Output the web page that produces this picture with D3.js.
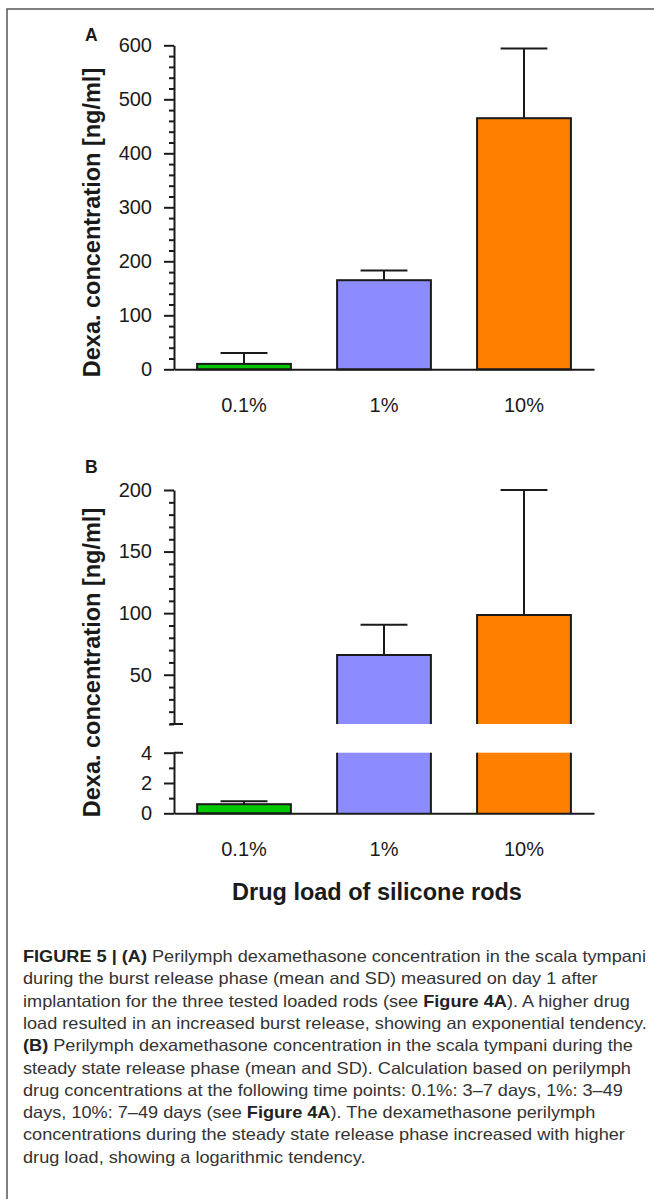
<!DOCTYPE html>
<html>
<head>
<meta charset="utf-8">
<script src="https://cdn.jsdelivr.net/npm/d3@7"></script>
<style>
  body { margin: 0; background: #fff; }
  svg { display: block; font-family: "Liberation Sans", Arial, sans-serif; }
</style>
</head>
<body>
<svg id="chart" width="654" height="1199"></svg>
<script>
// data
const loads = ["0.1%", "1%", "10%"];
const burstMean = [10, 165, 465];
const burstSD = [20, 18, 129];
const steadyMean = [0.6, 66, 98.5];
const steadySD = [0.2, 24.5, 101.5];
const barColors = ["#00c800", "#8c8cff", "#ff8000"];

const ticksA = [0, 100, 200, 300, 400, 500, 600];
const minorA = [20, 40, 60, 80, 120, 140, 160, 180, 220, 240, 260, 280, 320, 340, 360, 380, 420, 440, 460, 480, 520, 540, 560, 580];
const ticksBup = [50, 100, 150, 200];
const minorBup = [10, 20, 30, 40, 60, 70, 80, 90, 110, 120, 130, 140, 160, 170, 180, 190];
const ticksBlow = [0, 2, 4];
const minorBlow = [1, 3];

const caption = [
  [["FIGURE 5 | (A)", true], [" Perilymph dexamethasone concentration in the scala tympani", false]],
  [["during the burst release phase (mean and SD) measured on day 1 after", false]],
  [["implantation for the three tested loaded rods (see ", false], ["Figure 4A", true], ["). A higher drug", false]],
  [["load resulted in an increased burst release, showing an exponential tendency.", false]],
  [["(B)", true], [" Perilymph dexamethasone concentration in the scala tympani during the", false]],
  [["steady state release phase (mean and SD). Calculation based on perilymph", false]],
  [["drug concentrations at the following time points: 0.1%: 3\u20137 days, 1%: 3\u201349", false]],
  [["days, 10%: 7\u201349 days (see ", false], ["Figure 4A", true], ["). The dexamethasone perilymph", false]],
  [["concentrations during the steady state release phase increased with higher", false]],
  [["drug load, showing a logarithmic tendency.", false]]
];

const svg = d3.select("#chart");
const ink = "#1a1a1a";
const axisX = 174;

// frame
svg.append("path")
  .attr("d", "M7,1199V9H654")
  .attr("fill", "none")
  .attr("stroke", "#555")
  .attr("stroke-width", 1.5);

const x = d3.scaleBand()
  .domain(loads)
  .range([axisX, 594])
  .paddingInner(0.33)
  .paddingOuter(0.165);

function styleAxis(sel) {
  sel.selectAll("path, line").attr("stroke", ink).attr("stroke-width", 2);
  sel.selectAll("text")
    .attr("font-size", 20)
    .attr("fill", ink)
    .attr("font-family", "Liberation Sans, Arial, sans-serif");
}

function yAxis(scale, majors, minors) {
  const g = svg.append("g").attr("transform", `translate(${axisX},0)`);
  g.append("g")
    .call(d3.axisLeft(scale).tickValues(minors).tickSize(5).tickFormat(""))
    .call(s => s.select(".domain").remove())
    .call(styleAxis);
  g.append("g")
    .call(d3.axisLeft(scale).tickValues(majors).tickSize(10).tickSizeOuter(0).tickPadding(12).tickFormat(d => d))
    .call(styleAxis);
}

function xAxis(yBase) {
  svg.append("g")
    .attr("transform", `translate(0,${yBase})`)
    .call(d3.axisBottom(x).tickSize(0).tickSizeOuter(0).tickPadding(28.5))
    .call(styleAxis);
}

function errorBar(cx, yTop, yCap) {
  const half = x.bandwidth() / 4;
  svg.append("path")
    .attr("d", `M${cx},${yTop}V${yCap}M${cx - half},${yCap}H${cx + half}`)
    .attr("fill", "none")
    .attr("stroke", ink)
    .attr("stroke-width", 2);
}

function yLabel(cy) {
  svg.append("text")
    .attr("transform", `translate(99.5,${cy}) rotate(-90)`)
    .attr("text-anchor", "middle")
    .attr("font-size", 23.5)
    .attr("font-weight", "bold")
    .attr("fill", ink)
    .text("Dexa. concentration [ng/ml]");
}

function panelLetter(s, yb) {
  svg.append("text").attr("x", 85).attr("y", yb)
    .attr("font-size", 17.5).attr("font-weight", "bold").attr("fill", ink).text(s);
}

// ---------- Panel A ----------
const yA = d3.scaleLinear().domain([0, 600]).range([369.3, 45.3]);

panelLetter("A", 40.5);

loads.forEach((d, i) => {
  const cx = x(d) + x.bandwidth() / 2;
  errorBar(cx, yA(burstMean[i]), yA(burstMean[i] + burstSD[i]));
});

svg.append("g").selectAll("rect")
  .data(loads)
  .join("rect")
  .attr("x", d => x(d))
  .attr("y", (d, i) => yA(burstMean[i]))
  .attr("width", x.bandwidth())
  .attr("height", (d, i) => yA(0) - yA(burstMean[i]))
  .attr("fill", (d, i) => barColors[i])
  .attr("stroke", ink)
  .attr("stroke-width", 2);

yAxis(yA, ticksA, minorA);
xAxis(yA(0));
yLabel(222.5);

// ---------- Panel B (broken axis) ----------
const yLow = d3.scaleLinear().domain([0, 4]).range([813.3, 752.7]);
const yUp = d3.scaleLinear().domain([10, 200]).range([724, 490]);
const breakTop = yUp(10), breakBot = yLow(4);

panelLetter("B", 472.5);

loads.forEach((d, i) => {
  const x0 = x(d), w = x.bandwidth(), cx = x0 + w / 2;
  const v = steadyMean[i];
  if (v <= 4) {
    errorBar(cx, yLow(v), yLow(v + steadySD[i]));
    svg.append("rect")
      .attr("x", x0).attr("y", yLow(v))
      .attr("width", w).attr("height", yLow(0) - yLow(v))
      .attr("fill", barColors[i]).attr("stroke", ink).attr("stroke-width", 2);
  } else {
    errorBar(cx, yUp(v), yUp(v + steadySD[i]));
    // lower piece
    svg.append("rect")
      .attr("x", x0).attr("y", breakBot)
      .attr("width", w).attr("height", yLow(0) - breakBot)
      .attr("fill", barColors[i]);
    svg.append("path")
      .attr("d", `M${x0},${breakBot}V${yLow(0)}M${x0 + w},${breakBot}V${yLow(0)}`)
      .attr("fill", "none").attr("stroke", ink).attr("stroke-width", 2);
    // upper piece
    svg.append("rect")
      .attr("x", x0).attr("y", yUp(v))
      .attr("width", w).attr("height", breakTop - yUp(v))
      .attr("fill", barColors[i]);
    svg.append("path")
      .attr("d", `M${x0},${breakTop}V${yUp(v)}H${x0 + w}V${breakTop}`)
      .attr("fill", "none").attr("stroke", ink).attr("stroke-width", 2);
  }
});

yAxis(yUp, ticksBup, minorBup);
yAxis(yLow, ticksBlow, minorBlow);
// break marks
svg.append("path")
  .attr("d", `M${axisX - 4},${breakTop}H${axisX + 9}M${axisX},${breakBot}H${axisX + 9}`)
  .attr("stroke", ink).attr("stroke-width", 2);
xAxis(yLow(0));
yLabel(662.5);

svg.append("text")
  .attr("x", 377).attr("y", 900)
  .attr("text-anchor", "middle")
  .attr("font-size", 23.5)
  .attr("font-weight", "bold")
  .attr("fill", ink)
  .text("Drug load of silicone rods");

// ---------- caption ----------
const cap = svg.append("g").attr("font-size", 16.5).attr("fill", "#333");
const lines = caption.map((line, i) => {
  const t = cap.append("text").attr("x", 23).attr("y", 962 + i * 22.3);
  line.forEach(([s, bold]) => {
    t.append("tspan")
      .attr("font-weight", bold ? "bold" : "normal")
      .attr("fill", bold ? "#222" : "#333")
      .text(s);
  });
  return t;
});
// the original typeface is wider; stretch every line by the factor that makes the first fit
const stretch = 623 / lines[0].node().getComputedTextLength();
lines.forEach(t => {
  t.attr("textLength", t.node().getComputedTextLength() * stretch)
    .attr("lengthAdjust", "spacingAndGlyphs");
});
</script>
</body>
</html>
